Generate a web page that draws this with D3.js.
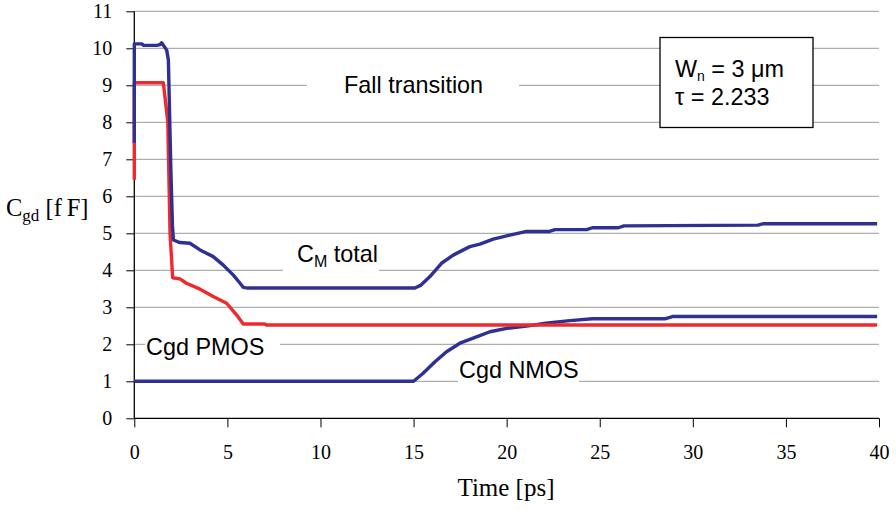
<!DOCTYPE html>
<html><head><meta charset="utf-8">
<script src="https://cdn.jsdelivr.net/npm/d3@7"></script>
<style>body{margin:0;background:#fff}svg{display:block}</style>
</head><body>
<svg id="c" width="896" height="509"></svg>
<script>
// ---- data ----
const xTicks = [0,5,10,15,20,25,30,35,40];
const yTicks = [0,1,2,3,4,5,6,7,8,9,10,11];

const timeCM = [0,0,0.1,0.4,0.5,1.2,1.38,1.47,1.74,1.83,1.97,2.05,2.1,2.45,2.99,3.53,4.24,4.78,5.32,5.68,5.85,6.1,15.07,15.4,15.88,16.5,17.13,18.02,18.56,19.28,20.17,21.07,22.3,22.6,24.3,24.6,26,26.3,33.5,33.8,39.9];
const capCM  = [7.45,10.12,10.12,10.12,10.08,10.08,10.1,10.15,9.95,9.68,6.6,5.2,4.82,4.75,4.73,4.55,4.37,4.14,3.87,3.65,3.54,3.52,3.52,3.6,3.83,4.19,4.41,4.64,4.71,4.84,4.95,5.05,5.05,5.1,5.1,5.15,5.15,5.2,5.22,5.26,5.26];

const timePMOS = [0,0,1.56,1.8,1.88,1.92,2.06,2.45,2.8,3.53,4.24,4.96,5.5,5.85,7.0,7.1,39.9];
const capPMOS  = [6.45,9.07,9.07,8.0,6.0,5.0,3.8,3.77,3.65,3.49,3.29,3.11,2.79,2.55,2.55,2.52,2.52];

const timeNMOS = [0,15.0,15.5,16.15,16.77,17.49,18.38,19.1,20.0,21.07,22.1,23.4,24.6,28.5,28.9,39.9];
const capNMOS  = [1.0,1.0,1.21,1.53,1.8,2.03,2.2,2.34,2.43,2.49,2.57,2.64,2.69,2.69,2.75,2.75];

// ---- layout ----
const svg = d3.select('#c');
const L = 134.3, R = 879, T = 11.3, B = 418.3;
const x = d3.scaleLinear().domain([0,40]).range([L,R]);
const y = d3.scaleLinear().domain([0,11]).range([B,T]);

// gridlines
svg.append('g').selectAll('line').data(yTicks.filter(d=>d>0)).join('line')
  .attr('x1',L).attr('x2',R).attr('y1',d=>y(d)).attr('y2',d=>y(d))
  .attr('stroke','#9a9a9a').attr('stroke-width',1);

// label backgrounds (hide gridlines)
const bgs = [[307,70,212,30],[283,238,96,34],[145,331,135,30],[458,364,121,30]];
svg.append('g').selectAll('rect').data(bgs).join('rect')
  .attr('x',d=>d[0]).attr('y',d=>d[1]).attr('width',d=>d[2]).attr('height',d=>d[3])
  .attr('fill','#fff');

// axes
const serif = 'Liberation Serif, Times New Roman, serif';
const sans = 'Liberation Sans, Arial, Helvetica, sans-serif';
const yAxis = svg.append('g').attr('transform',`translate(${L},0)`)
  .call(d3.axisLeft(y).tickValues(yTicks).tickSize(8).tickPadding(14).tickFormat(d3.format('d')));
const xAxis = svg.append('g').attr('transform',`translate(0,${B})`)
  .call(d3.axisBottom(x).tickValues(xTicks).tickSize(9).tickPadding(18).tickFormat(d3.format('d')));
[yAxis,xAxis].forEach(a=>{
  a.select('.domain').attr('stroke','#000').attr('stroke-width',1.3);
  a.selectAll('.tick line').attr('stroke','#000').attr('stroke-width',1);
  a.selectAll('text').attr('font-family',serif).attr('font-size',20).attr('fill','#000');
});
yAxis.select('.domain').attr('d',`M0,${B}V${T}`);
xAxis.select('.domain').attr('d',`M${L},0H${R}`);

// lines
const line = d3.line().x(d=>x(d[0])).y(d=>y(d[1]));
const series = [
  [timeNMOS,capNMOS,'#2e3192'],
  [timePMOS,capPMOS,'#ee2a2f'],
  [timeCM,capCM,'#2e3192']
];
series.forEach(([t,c,col])=>{
  svg.append('path').datum(t.map((v,i)=>[v,c[i]]))
    .attr('d',line).attr('fill','none').attr('stroke',col)
    .attr('stroke-width',3.4).attr('stroke-linejoin','round');
});

// info box
svg.append('rect').attr('x',660).attr('y',37.5).attr('width',153).attr('height',90)
  .attr('fill','#fff').attr('stroke','#000').attr('stroke-width',1.3);

// annotations
const fs = 23.4;
const ann = svg.append('g').attr('font-family',sans).attr('font-size',fs).attr('fill','#000');
ann.append('text').attr('x',344).attr('y',93).text('Fall transition');
const cm = ann.append('text').attr('x',297).attr('y',262);
cm.append('tspan').text('C');
cm.append('tspan').attr('font-size',16).attr('dy',5).text('M');
cm.append('tspan').attr('dy',-5).text(' total');
ann.append('text').attr('x',146).attr('y',355).text('Cgd PMOS');
ann.append('text').attr('x',459).attr('y',377.5).text('Cgd NMOS');

const w = ann.append('text').attr('x',675).attr('y',76.5);
w.append('tspan').text('W');
w.append('tspan').attr('font-size',14).attr('dy',4).text('n');
w.append('tspan').attr('dy',-4).text(' = 3 \u03bcm');
ann.append('text').attr('x',675).attr('y',104.5).text('\u03c4 = 2.233');

// axis titles
const at = svg.append('g').attr('font-family',serif).attr('fill','#000');
at.append('text').attr('x',506).attr('y',496).attr('text-anchor','middle')
  .attr('font-size',25).text('Time [ps]');
const yt = at.append('text').attr('x',6).attr('y',216).attr('font-size',24.5);
yt.append('tspan').text('C');
yt.append('tspan').attr('font-size',17).attr('dy',5).text('gd');
yt.append('tspan').attr('dy',-5).text(' [f\u2009F]');
</script>
</body></html>
